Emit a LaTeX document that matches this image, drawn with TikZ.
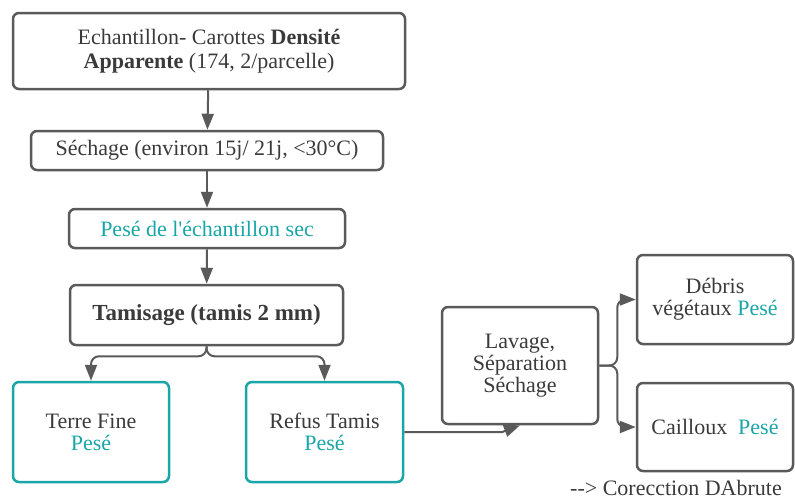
\documentclass[tikz,border=0pt]{standalone}
\usepackage{fontspec}
\setmainfont{Liberation Serif}
\usetikzlibrary{arrows.meta}

\definecolor{linegray}{HTML}{5A5A5A}
\definecolor{textgray}{HTML}{3A3A3A}
\definecolor{peseteal}{HTML}{1AA6A9}

\newcommand{\pese}{\textcolor{peseteal}{Pesé}}

\begin{document}
\begin{tikzpicture}[x=0.5pt, y=-0.5pt,
        box/.style={draw=linegray, line width=1.25pt, rounded corners=3pt, text=textgray, align=center, inner sep=2pt},
        tealbox/.style={box, draw=peseteal},
        arr/.style={draw=linegray, line width=1pt, -{Triangle[length=8pt, width=6pt]}}]
        \useasboundingbox (0, 0) rectangle (795, 498);
        \fontsize{11}{12}\selectfont
        \node [box, minimum width=196pt, minimum height=38pt] (ech) at (209, 51) {Echantillon- Carottes \textbf{Densité}\\ \textbf{Apparente} (174, 2/parcelle)};
        \node [box, minimum width=176pt, minimum height=19.5pt] (sech) at (207, 150.5) {Séchage (environ 15j/ 21j, <30°C)};
        \node [box, minimum width=138pt, minimum height=19.5pt, text=peseteal] (pesesec) at (207, 228.5) {Pesé de l\textquotesingle échantillon sec};
        \node [box, minimum width=136.5pt, minimum height=30pt, font=\bfseries\fontsize{11.5}{12}\selectfont] (tam) at (206.5, 315) {Tamisage (tamis 2 mm)};

        \fontsize{11}{11}\selectfont
        \node [tealbox, minimum width=78pt, minimum height=50pt] (terre) at (91, 432) {Terre Fine\\ \pese};
        \node [tealbox, minimum width=78.5pt, minimum height=50pt] (refus) at (324.5, 432) {Refus Tamis\\ \pese};

        \node [box, minimum width=78pt, minimum height=58.5pt] (lav) at (520, 365.5) {Lavage,\\ Séparation\\ Séchage};
        \node [box, minimum width=78pt, minimum height=44.5pt] (debris) at (715, 299.5) {Débris\\ végétaux \pese};
        \node [box, minimum width=78pt, minimum height=44pt] (caill) at (715, 427) {Cailloux\ \ \pese};

        \draw [arr] (ech) -- (sech);
        \draw [arr] (sech) -- (pesesec);
        \draw [arr] (pesesec) -- (tam);
        \draw [arr, rounded corners=4pt] (tam.south) -- ++(0, 10) -| (terre.north);
        \draw [arr, rounded corners=4pt] (tam.south) -- ++(0, 10) -| (refus.north);
        \draw [arr] (refus.east) -- ++(98, 0) -- (lav.south);
        \draw [arr, rounded corners=4pt] (lav.east) -- ++(18, 0) |- (debris.west);
        \draw [arr, rounded corners=4pt] (lav.east) -- ++(18, 0) |- (caill.west);

        \node [text=textgray] (corr) at (676, 488) {-{}-> Corecction DAbrute};
    \end{tikzpicture}
\end{document}
